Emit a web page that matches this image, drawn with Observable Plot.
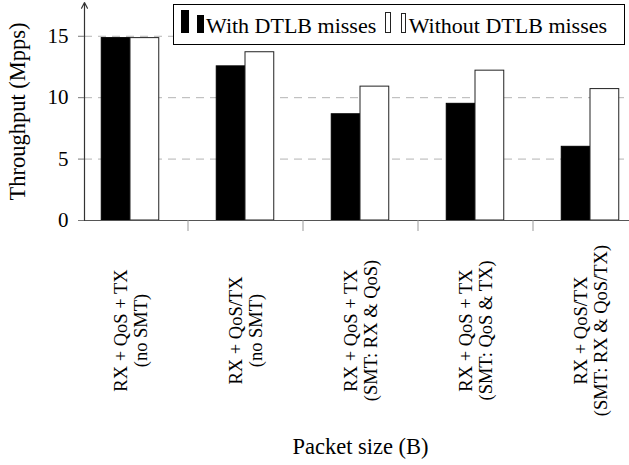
<!DOCTYPE html>
<html>
<head>
<meta charset="utf-8">
<script src="https://cdn.jsdelivr.net/npm/d3@7"></script>
<script src="https://cdn.jsdelivr.net/npm/@observablehq/plot@0.6"></script>
<style>
  html, body { margin: 0; padding: 0; background: white; overflow: hidden; }
  #wrap { position: relative; width: 629px; height: 465px; overflow: hidden; }
  #legend {
    position: absolute; left: 173px; top: 4px; width: 452px; height: 41px;
    box-sizing: border-box; border: 1px solid #000; background: #fff;
    display: flex; align-items: baseline; padding: 4.7px 0 0 7px;
    font-family: "Liberation Serif", "Times New Roman", Times, "DejaVu Serif", serif; font-size: 22px; line-height: 1; color: #000;
    white-space: nowrap;
  }
  .ic { display: inline-block; box-sizing: border-box; margin-bottom: -1px; }
  svg text { font-family: "Liberation Serif", "Times New Roman", Times, "DejaVu Serif", serif; }
</style>
</head>
<body>
<div id="wrap"><div id="chart"></div><div id="legend"></div></div>
<script>
const categories = [
  "RX + QoS + TX\n(no SMT)",
  "RX + QoS/TX\n(no SMT)",
  "RX + QoS + TX\n(SMT: RX & QoS)",
  "RX + QoS + TX\n(SMT: QoS & TX)",
  "RX + QoS/TX\n(SMT: RX & QoS/TX)"
];
const series = ["With DTLB misses", "Without DTLB misses"];
const withMisses = [14.85, 12.55, 8.65, 9.5, 6.0];
const withoutMisses = [14.85, 13.7, 10.9, 12.2, 10.7];
const yTicks = [0, 5, 10, 15];
const xTitle = "Packet size (B)";
const yTitle = "Throughput (Mpps)";

const xDomain = [-0.4, 4.4];
const yMax = 17.75;
const barW = 0.25;
const serifFont = '"Liberation Serif", "Times New Roman", Times, "DejaVu Serif", serif';

const bars = [];
categories.forEach((c, i) => {
  bars.push({i, series: series[0], value: withMisses[i], x1: i - barW, x2: i});
  bars.push({i, series: series[1], value: withoutMisses[i], x1: i, x2: i + barW});
});
const boundaries = categories.slice(1).map((_, i) => i + 0.5);

const chart = Plot.plot({
  width: 629,
  height: 465,
  marginLeft: 84,
  marginRight: 0,
  marginTop: 2,
  marginBottom: 245,
  x: {domain: xDomain, range: [84, 636]},
  y: {domain: [0, yMax]},
  style: {fontFamily: serifFont, background: "white", color: "black", overflow: "visible"},
  marks: [
    Plot.gridY(yTicks.filter(t => t > 0), {stroke: "#b4b4b4", strokeOpacity: 1, strokeDasharray: "8,6"}),
    Plot.rect(bars, {
      x1: "x1", x2: "x2", y1: 0, y2: "value",
      fill: d => d.series === series[0] ? "#000" : "#fff",
      stroke: d => d.series === series[0] ? "#000" : "#222",
      strokeWidth: 1
    }),
    Plot.ruleY([0], {stroke: "#555"}),
    Plot.arrow([0], {x1: () => xDomain[0], x2: () => xDomain[0], y1: () => 0, y2: () => yMax,
      stroke: "#333", strokeWidth: 1.2, headLength: 8, headAngle: 55}),
    Plot.axisY({ticks: yTicks, tickSize: 6, tickPadding: 10, fontSize: 21, stroke: "#777", fill: "#000", label: null}),
    Plot.axisX({ticks: boundaries, tickSize: 11, tickFormat: () => "", stroke: "#999", label: null}),
    Plot.text(categories, {
      x: (d, i) => i, frameAnchor: "bottom", dy: 110, rotate: -90,
      textAnchor: "middle", lineAnchor: "middle", fontSize: 18.5, lineHeight: 1.08, fill: "#000"
    }),
    Plot.text([yTitle], {frameAnchor: "left", dx: -67, rotate: -90, textAnchor: "middle", lineAnchor: "middle", fontSize: 22.5, fill: "#000"}),
    Plot.text([xTitle], {x: () => (xDomain[0] + xDomain[1]) / 2, frameAnchor: "bottom", dy: 226, textAnchor: "middle", lineAnchor: "middle", fontSize: 22.5, fill: "#000"})
  ]
});
document.getElementById("chart").appendChild(chart);

// legend (pgfplots-style ybar legend images)
const legend = document.getElementById("legend");
function icon(w, h, fill, border, mr) {
  const s = document.createElement("span");
  s.className = "ic";
  s.style.width = w + "px";
  s.style.height = h + "px";
  s.style.background = fill;
  s.style.border = border;
  s.style.marginRight = mr + "px";
  return s;
}
function label(t, mr) {
  const s = document.createElement("span");
  s.textContent = t;
  s.style.marginRight = mr + "px";
  return s;
}
legend.appendChild(icon(8, 23, "#000", "none", 8));
legend.appendChild(icon(7, 18, "#000", "none", 2));
legend.appendChild(label(series[0], 9));
legend.appendChild(icon(5.5, 21, "#fff", "1px solid #222", 10));
legend.appendChild(icon(5.5, 20, "#fff", "1px solid #222", 2.5));
legend.appendChild(label(series[1], 0));
</script>
</body>
</html>
